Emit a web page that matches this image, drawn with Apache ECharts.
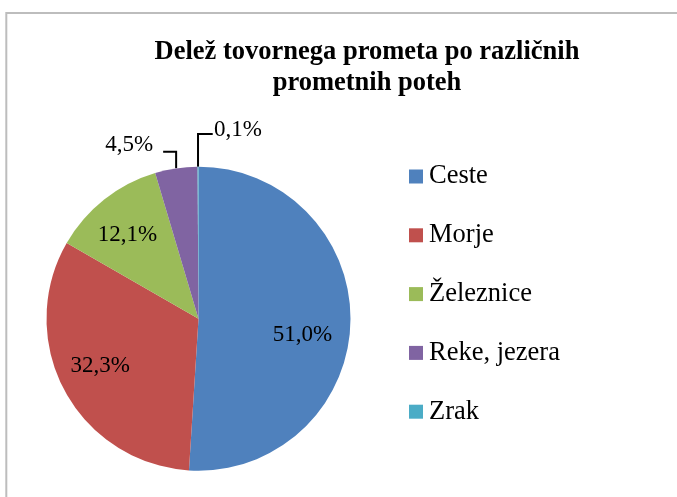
<!DOCTYPE html>
<html>
<head>
<meta charset="utf-8">
<script src="https://cdn.jsdelivr.net/npm/echarts@6/dist/echarts.min.js"></script>
<style>
html,body{margin:0;padding:0;background:#fff;}
#chart{width:677px;height:497px;}
</style>
</head>
<body>
<div id="chart"></div>
<script>
var titleText = 'Delež tovornega prometa po različnih\nprometnih poteh';
var categories = ['Ceste', 'Morje', 'Železnice', 'Reke, jezera', 'Zrak'];
var values = [51.0, 32.3, 12.1, 4.5, 0.1];
var colors = ['#4F81BD', '#C0504D', '#9BBB59', '#8064A2', '#4BACC6'];

var serif = "'Liberation Serif', 'Times New Roman', serif";
var insideIdx = [0, 1, 2];
var insideOffsets = { 0: [25, 13.8], 1: [-28.6, 10.2], 2: [-22, -21.7] };

var chart = echarts.init(document.getElementById('chart'), null, { renderer: 'canvas' });

var data = categories.map(function (name, i) {
  var inside = insideIdx.indexOf(i) >= 0;
  return {
    name: name,
    value: values[i],
    itemStyle: { color: colors[i] },
    label: { position: inside ? 'inside' : 'outside' },
    labelLine: { show: !inside }
  };
});

chart.setOption({
  backgroundColor: '#ffffff',
  animation: false,
  graphic: [{
    type: 'rect',
    silent: true,
    shape: { x: 6.3, y: 13, width: 800, height: 700 },
    style: { fill: 'none', stroke: '#bdbdbd', lineWidth: 2 }
  }],
  title: {
    text: titleText,
    left: 367,
    top: 37,
    padding: 0,
    textAlign: 'center',
    textStyle: {
      fontFamily: serif,
      fontWeight: 'bold',
      fontSize: 26.5,
      lineHeight: 31,
      color: '#000'
    }
  },
  legend: {
    orient: 'vertical',
    left: 409,
    top: 162,
    padding: 0,
    itemWidth: 14,
    itemHeight: 14,
    itemGap: 29.8,
    icon: 'rect',
    selectedMode: false,
    data: categories,
    textStyle: {
      fontFamily: serif,
      fontSize: 26.5,
      lineHeight: 26,
      color: '#000',
      padding: [3, 0, 0, 1]
    }
  },
  series: [{
    type: 'pie',
    center: [198.5, 318.7],
    radius: 152,
    startAngle: 90,
    clockwise: true,
    avoidLabelOverlap: false,
    silent: true,
    emphasis: { disabled: true },
    label: {
      show: true,
      color: '#000',
      fontFamily: serif,
      fontSize: 23,
      formatter: function (p) {
        return p.value.toFixed(1).replace('.', ',') + '%';
      }
    },
    labelLine: {
      show: true,
      length: 16,
      length2: 14,
      lineStyle: { color: '#000', width: 2 }
    },
    labelLayout: function (params) {
      var i = params.dataIndex;
      if (insideOffsets[i]) {
        return { dx: insideOffsets[i][0], dy: insideOffsets[i][1] };
      }
      var pts = params.labelLinePoints;
      if (!pts) { return {}; }
      var p = pts[0];
      if (i === 4) {
        var yT = p[1] - 32.7;
        return {
          x: p[0] + 16, y: p[1] - 37.2, align: 'left', verticalAlign: 'middle',
          labelLinePoints: [[p[0], p[1]], [p[0], yT], [p[0] + 14.7, yT]]
        };
      }
      if (i === 3) {
        var yR = p[1] - 16.5;
        return {
          x: p[0] - 23, y: p[1] - 23, align: 'right', verticalAlign: 'middle',
          labelLinePoints: [[p[0], p[1]], [p[0], yR], [p[0] - 13, yR]]
        };
      }
      return {};
    },
    data: data
  }]
});
</script>
</body>
</html>
